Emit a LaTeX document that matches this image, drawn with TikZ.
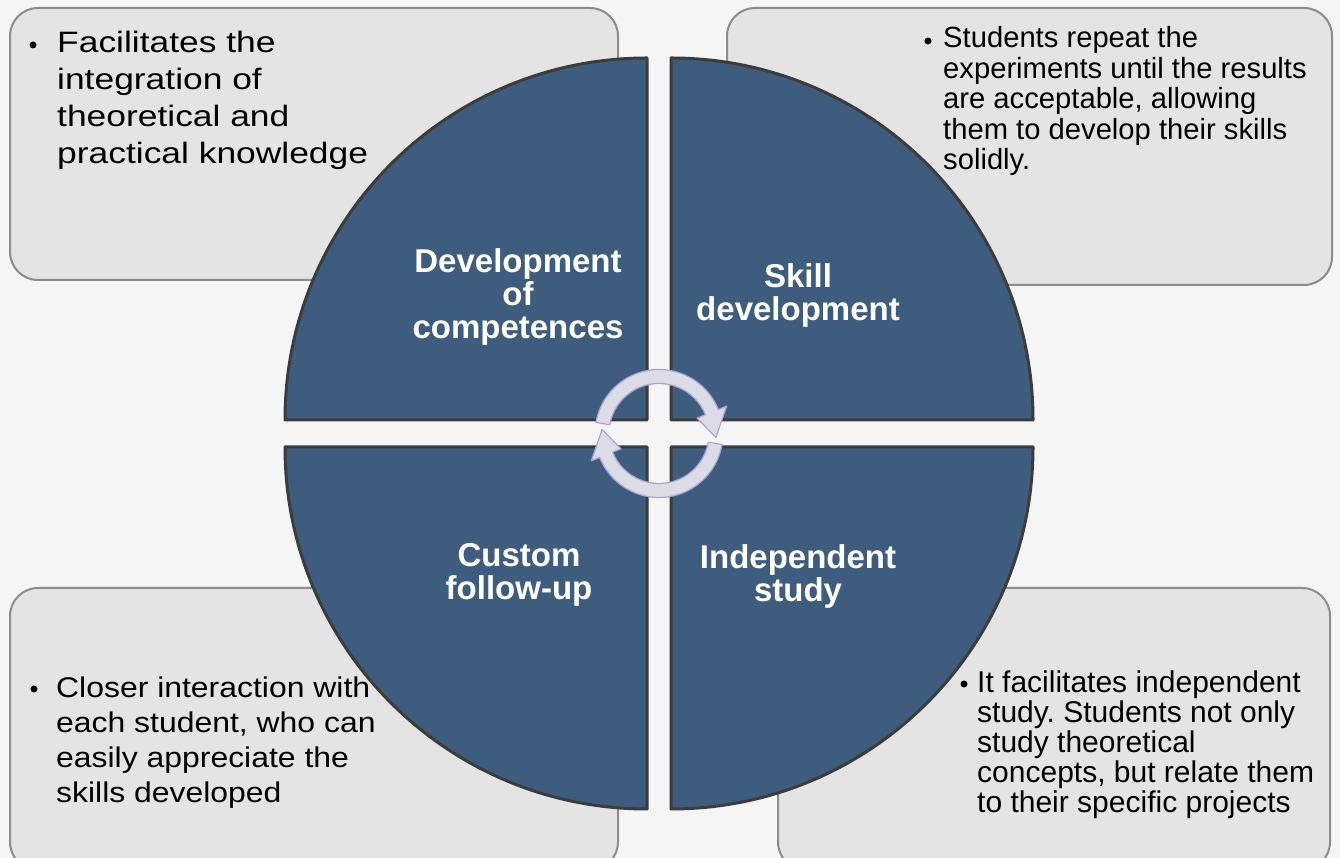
\documentclass[tikz,border=0pt]{standalone}
\usepackage{fontspec}
\setmainfont{Liberation Sans}
\newfontfamily\tlfont[FakeStretch=1.2]{Liberation Sans}
\newfontfamily\blfont[FakeStretch=1.12]{Liberation Sans}
\frenchspacing
\definecolor{bg}{HTML}{F5F5F5}
\definecolor{boxfill}{HTML}{E4E4E4}
\definecolor{boxline}{HTML}{8C8C8C}
\definecolor{quadfill}{HTML}{3E5D7E}
\definecolor{quadline}{HTML}{3C3C3C}
\definecolor{ringfill}{HTML}{DCDCE6}
\definecolor{ringline}{HTML}{A9A3D8}
\begin{document}
\begin{tikzpicture}[x=1pt,y=1pt,
  infobox/.style={draw=boxline, fill=boxfill, line width=2pt, rounded corners=28pt},
  quad/.style={draw=quadline, fill=quadfill, line width=3pt, line join=round},
  ring/.style={draw=ringline, fill=ringfill, line width=1.2pt, line join=round},
  boxtext/.style={anchor=base west, align=left, inner sep=0pt, text=black},
  bulletdot/.style={circle, fill=black, inner sep=0pt, minimum size=7pt},
  quadlabel/.style={anchor=base, align=center, inner sep=0pt, text=white,
    font=\bfseries\fontsize{33}{33}\selectfont}]
\useasboundingbox (0,0) rectangle (1340,858);
\clip (0,0) rectangle (1340,858);
\fill[bg] (0,0) rectangle (1340,858);

% info boxes
\draw[infobox] (10,578) rectangle (618,850);
\draw[infobox] (727,573) rectangle (1332,850);
\draw[infobox] (10,270) rectangle (618,-12);
\draw[infobox] (778,270) rectangle (1330,-12);

% box texts (base anchor = baseline of last line)
\node[bulletdot] (tlb) at (33,813) {};
\node[boxtext, font=\tlfont\fontsize{29.5}{36.8}\selectfont] (tltext) at (57,694.6)
  {Facilitates the\\integration of\\theoretical and\\practical knowledge};
\node[bulletdot] (trb) at (928,817) {};
\node[boxtext, font=\fontsize{29.2}{30.5}\selectfont] (trtext) at (943,688)
  {Students repeat the\\experiments until the results\\are acceptable, allowing\\them to develop their skills\\solidly.};
\node[bulletdot] (blb) at (34,169) {};
\node[boxtext, font=\blfont\fontsize{28.5}{35}\selectfont] (bltext) at (56,55)
  {Closer interaction with\\each student, who can\\easily appreciate the\\skills developed};
\node[bulletdot] (brb) at (964,174) {};
\node[boxtext, font=\fontsize{30}{29.8}\selectfont] (brtext) at (977,45.8)
  {It facilitates independent\\study. Students not only\\study theoretical\\concepts, but relate them\\to their specific projects};

% quadrants
\draw[quad] (647,438) -- (285,438) arc[start angle=180, end angle=90, radius=362pt] -- cycle;
\draw[quad] (671,438) -- (671,800) arc[start angle=90, end angle=0, radius=362pt] -- cycle;
\draw[quad] (647,411) -- (285,411) arc[start angle=180, end angle=270, radius=362pt] -- cycle;
\draw[quad] (671,411) -- (1033,411) arc[start angle=0, end angle=-90, radius=362pt] -- cycle;

% circular arrows
\begin{scope}[shift={(659,424.5)}]
\draw[ring] (170:64pt) arc[start angle=170, end angle=22, radius=64pt]
  -- (22:73pt) -- (-4:57pt) -- (22:41pt) -- (22:50pt)
  arc[start angle=22, end angle=170, radius=50pt] -- cycle;
\draw[ring] (-10:64pt) arc[start angle=-10, end angle=-158, radius=64pt]
  -- (202:73pt) -- (176:57pt) -- (202:41pt) -- (202:50pt)
  arc[start angle=202, end angle=350, radius=50pt] -- cycle;
\end{scope}

% quadrant labels (base anchor = baseline of last line)
\node[quadlabel] (dev) at (518,519) {Development\\of\\competences};
\node[quadlabel] (skill) at (798,537) {Skill\\development};
\node[quadlabel] (custom) at (519,258) {Custom\\follow-up};
\node[quadlabel] (indep) at (798,256) {Independent\\study};
\end{tikzpicture}
\end{document}
